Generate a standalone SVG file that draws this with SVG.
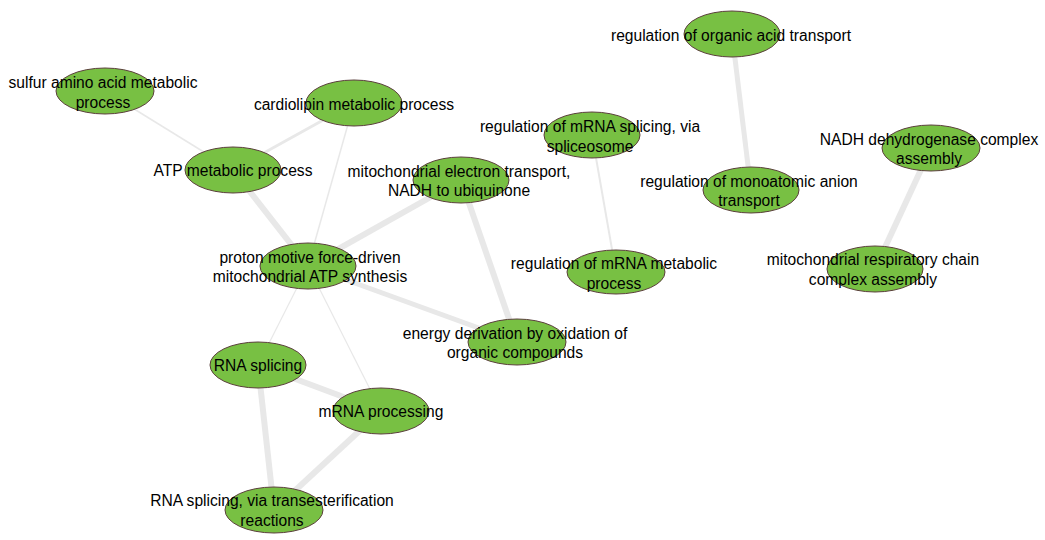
<svg xmlns="http://www.w3.org/2000/svg" width="1045" height="540" viewBox="0 0 1045 540">
<style>
.n ellipse{fill:#78c043;stroke:#5b3f3c;stroke-width:1}
.n text{font-family:"Liberation Sans",Arial,sans-serif;font-size:15.6px;fill:#000;text-anchor:middle}
.e line{stroke:#e8e8e8;stroke-linecap:butt}
</style>
<rect width="1045" height="540" fill="#fff"/>
<g id="edges" class="e">
<line x1="105" y1="91" x2="233" y2="170" stroke-width="1.5"/>
<line x1="354" y1="103" x2="233" y2="170" stroke-width="3"/>
<line x1="354" y1="103" x2="308" y2="266" stroke-width="1.5"/>
<line x1="233" y1="170" x2="308" y2="266" stroke-width="6"/>
<line x1="461" y1="180" x2="308" y2="266" stroke-width="6"/>
<line x1="461" y1="180" x2="517" y2="342" stroke-width="6"/>
<line x1="308" y1="266" x2="517" y2="342" stroke-width="5"/>
<line x1="308" y1="266" x2="258" y2="365" stroke-width="1.2"/>
<line x1="308" y1="266" x2="381" y2="411" stroke-width="1.2"/>
<line x1="258" y1="365" x2="381" y2="411" stroke-width="6"/>
<line x1="258" y1="365" x2="274" y2="510" stroke-width="6"/>
<line x1="381" y1="411" x2="274" y2="510" stroke-width="6"/>
<line x1="732" y1="34" x2="751" y2="190" stroke-width="5"/>
<line x1="592" y1="135" x2="616" y2="272" stroke-width="2"/>
<line x1="931" y1="148" x2="875" y2="269" stroke-width="6"/>
</g>
<g id="n_sulfur" class="n"><ellipse cx="105" cy="91" rx="49" ry="23"/><text x="103" y="88">sulfur amino acid metabolic</text><text x="103" y="108">process</text></g>
<g id="n_cardiolipin" class="n"><ellipse cx="354" cy="103" rx="48" ry="23"/><text x="354" y="110">cardiolipin metabolic process</text></g>
<g id="n_atp" class="n"><ellipse cx="233" cy="170" rx="48" ry="23"/><text x="233" y="176">ATP metabolic process</text></g>
<g id="n_mito_et" class="n"><ellipse cx="461" cy="180" rx="48" ry="23"/><text x="459" y="177">mitochondrial electron transport,</text><text x="459" y="196">NADH to ubiquinone</text></g>
<g id="n_proton" class="n"><ellipse cx="308" cy="266" rx="48" ry="23"/><text x="310" y="263">proton motive force-driven</text><text x="310" y="282">mitochondrial ATP synthesis</text></g>
<g id="n_energy" class="n"><ellipse cx="517" cy="342" rx="49" ry="23"/><text x="515" y="339">energy derivation by oxidation of</text><text x="515" y="358">organic compounds</text></g>
<g id="n_rnasplicing" class="n"><ellipse cx="258" cy="365" rx="48" ry="23"/><text x="258" y="371">RNA splicing</text></g>
<g id="n_mrnaproc" class="n"><ellipse cx="381" cy="411" rx="48" ry="23"/><text x="381" y="417">mRNA processing</text></g>
<g id="n_rnatrans" class="n"><ellipse cx="274" cy="510" rx="49" ry="23"/><text x="272" y="506">RNA splicing, via transesterification</text><text x="272" y="526">reactions</text></g>
<g id="n_regorg" class="n"><ellipse cx="732" cy="34" rx="48" ry="23"/><text x="731" y="41">regulation of organic acid transport</text></g>
<g id="n_regsplice" class="n"><ellipse cx="592" cy="135" rx="48" ry="23"/><text x="590" y="132">regulation of mRNA splicing, via</text><text x="590" y="152">spliceosome</text></g>
<g id="n_reganion" class="n"><ellipse cx="751" cy="190" rx="48" ry="23"/><text x="749" y="187">regulation of monoatomic anion</text><text x="749" y="206">transport</text></g>
<g id="n_regmeta" class="n"><ellipse cx="616" cy="272" rx="49" ry="22"/><text x="614" y="269">regulation of mRNA metabolic</text><text x="614" y="289">process</text></g>
<g id="n_nadh" class="n"><ellipse cx="931" cy="148" rx="49" ry="23"/><text x="929" y="145">NADH dehydrogenase complex</text><text x="929" y="164">assembly</text></g>
<g id="n_mitoresp" class="n"><ellipse cx="875" cy="269" rx="48" ry="23"/><text x="873" y="265">mitochondrial respiratory chain</text><text x="873" y="285">complex assembly</text></g>
</svg>
